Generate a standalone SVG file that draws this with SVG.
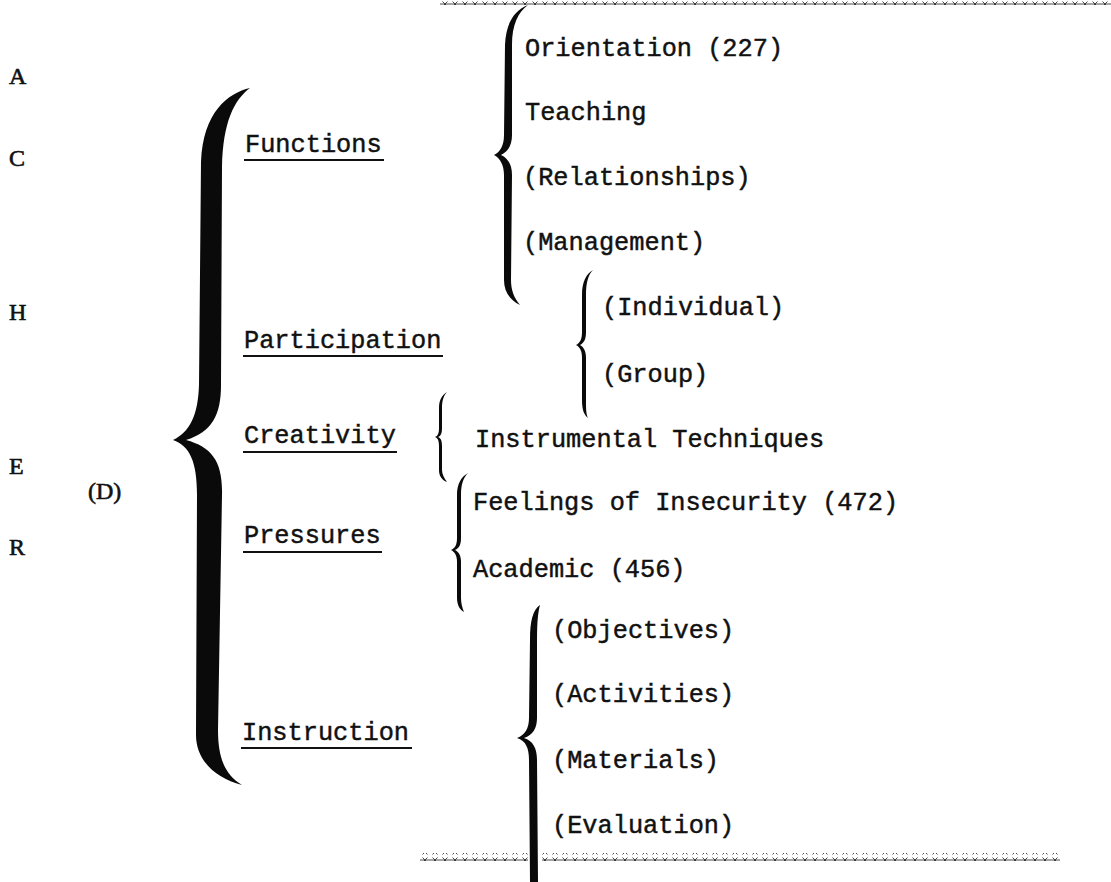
<svg xmlns="http://www.w3.org/2000/svg" width="1111" height="882" viewBox="0 0 1111 882">
<style>
.t{font-family:"Liberation Mono","DejaVu Sans Mono",monospace;font-size:25.3px;fill:#111;stroke:#111;stroke-width:0.45}
.l{font-family:"Liberation Serif","DejaVu Serif",serif;font-size:24px;fill:#111;stroke:#111;stroke-width:0.6}
.u{stroke:#111;stroke-width:2.2}
.b{fill:#0a0a0a}
</style>
<defs>
<pattern id="xs" x="0" y="0" width="10" height="8" patternUnits="userSpaceOnUse">
<path d="M2.5,1.5 L7.5,6.5 M7.5,1.5 L2.5,6.5 M0,4 L10,4" stroke="#333" stroke-width="0.9" fill="none"/>
</pattern>
</defs>
<rect width="1111" height="882" fill="#fff"/>
<g id="borders">
<rect x="440" y="0" width="671" height="5" fill="url(#xs)"/>
<rect x="420" y="853" width="108" height="8" fill="url(#xs)"/>
<rect x="542" y="853" width="518" height="8" fill="url(#xs)"/>
</g>
<g id="side-letters">
<text class="l" x="9" y="84">A</text>
<text class="l" x="9" y="166">C</text>
<text class="l" x="9" y="320">H</text>
<text class="l" x="9" y="474">E</text>
<text class="l" x="9" y="555">R</text>
<text class="l" x="88" y="499">(D)</text>
</g>
<g id="connectors">
<path class="b" d="M250,88 C228,93 203,112 201,162 L199,385 C198,415 190,432 173,440 C190,446 197,462 197,495 L196,735 C196,760 215,778 242,785 C225,775 218,758 218,730 L222,495 C223,462 212,447 186,440 C212,432 221,415 221,385 L222,167 C223,122 234,100 250,88 Z"/>
<path class="b" d="M528,5 C515,10 506,22 505,45 L504,135 C504,146 500,152 494,155 C500,158 504,165 504,175 L504,280 C504,292 510,300 520,305 C514,298 511,290 511,280 L512,175 C512,165 508,158 501,155 C508,152 512,145 512,135 L512,45 C512,25 518,12 528,5 Z"/>
<path class="b" d="M593,270 C586,274 582,282 582,295 L582,332 C582,339 580,343 576,345 C580,347 582,351 582,358 L582,400 C582,410 584,415 588,418 C586,414 586,408 586,400 L586,358 C586,352 584,347 580,345 C584,343 586,339 586,332 L586,295 C586,283 588,275 593,270 Z"/>
<path class="b" d="M447,392 C442,395 439,400 439,408 L439,428 C439,433 438,436 435,437 C438,438 439,441 439,446 L439,470 C439,476 442,480 447,482 C444,478 442,474 442,470 L442,446 C442,441 441,438 438,437 C441,436 442,433 442,428 L442,408 C442,400 444,395 447,392 Z"/>
<path class="b" d="M468,473 C461,477 457,484 457,495 L457,538 C457,545 455,548 451,550 C455,552 457,556 457,562 L457,598 C457,605 460,610 464,612 C462,607 461,603 461,598 L461,562 C461,556 459,552 455,550 C459,548 461,545 461,538 L461,495 C461,485 463,478 468,473 Z"/>
<path class="b" d="M540,605 C533,610 530,620 530,640 L529,718 C529,728 525,735 517,738 C526,741 529,748 529,760 L530,882 L538,882 L537,760 C537,748 533,741 524,738 C533,735 537,728 537,718 L537,640 C537,622 538,612 540,605 Z"/>
</g>
<g id="level1">
<text class="t" x="245" y="152">Functions</text>
<line class="u" x1="244" y1="160" x2="384" y2="160"/>
<text class="t" x="244" y="348">Participation</text>
<line class="u" x1="243" y1="356" x2="443" y2="356"/>
<text class="t" x="244" y="443">Creativity</text>
<line class="u" x1="243" y1="452" x2="397" y2="452"/>
<text class="t" x="244" y="543">Pressures</text>
<line class="u" x1="243" y1="552" x2="382" y2="552"/>
<text class="t" x="242" y="740">Instruction</text>
<line class="u" x1="241" y1="748" x2="412" y2="748"/>
</g>
<g id="functions-items">
<text class="t" x="525" y="56">Orientation (227)</text>
<text class="t" x="525" y="120">Teaching</text>
<text class="t" x="523" y="185">(Relationships)</text>
<text class="t" x="523" y="250">(Management)</text>
</g>
<g id="participation-items">
<text class="t" x="602" y="315">(Individual)</text>
<text class="t" x="602" y="382">(Group)</text>
</g>
<g id="creativity-items">
<text class="t" x="475" y="447">Instrumental Techniques</text>
</g>
<g id="pressures-items">
<text class="t" x="473" y="510">Feelings of Insecurity (472)</text>
<text class="t" x="473" y="577">Academic (456)</text>
</g>
<g id="instruction-items">
<text class="t" x="552" y="638">(Objectives)</text>
<text class="t" x="552" y="702">(Activities)</text>
<text class="t" x="552" y="768">(Materials)</text>
<text class="t" x="552" y="833">(Evaluation)</text>
</g>
</svg>
